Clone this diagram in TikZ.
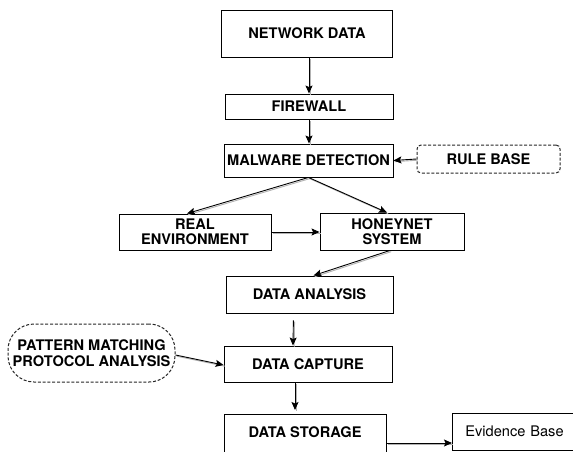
\documentclass[tikz,border=0pt]{standalone}
\usepackage{fontspec}
\setmainfont{TeX Gyre Heros}
\usetikzlibrary{arrows.meta,calc}

\tikzset{
  box/.style={draw, line width=0.9pt, fill=white, font=\fontsize{14.6}{15.5}\selectfont\bfseries,
    align=center, inner sep=2pt},
  dashbox/.style={box, line width=1pt, dash pattern=on 3pt off 1.8pt, draw=black!85},
  arr/.style={line width=0.9pt, -{Stealth[length=8pt,width=7pt,inset=1.5pt]},
    preaction={draw=black!30, line width=0.9pt, arrows=-,
      transform canvas={xshift=1.2pt,yshift=-1.2pt}}},
}

\begin{document}
\begin{tikzpicture}[x=1pt,y=-1pt]
  \useasboundingbox (0,0) rectangle (573,452);
  \clip (0,0) rectangle (573,452);

  % main processing chain
  \node[box, minimum width=171, minimum height=47] (net) at (307,33.5) {NETWORK DATA};
  \node[box, minimum width=168, minimum height=25] (fw)  at (309,106.5) {FIREWALL};
  \node[box, minimum width=169, minimum height=33] (mal) at (308.5,160.5) {MALWARE DETECTION};
  \node[dashbox, rounded corners=4pt, minimum width=143, minimum height=28] (rule) at (488.5,159) {RULE BASE};

  \node[box, minimum width=152, minimum height=36] (real) at (195,232) {REAL\\ENVIRONMENT};
  \node[box, minimum width=144, minimum height=37] (hon)  at (392,231.5) {HONEYNET\\SYSTEM};

  \node[box, minimum width=167, minimum height=37] (ana) at (309.5,294.5) {DATA ANALYSIS};
  \node[dashbox, rounded corners=26pt, minimum width=167, minimum height=58] (pat) at (91.5,353)
    {PATTERN MATCHING\\PROTOCOL ANALYSIS};
  \node[box, minimum width=168, minimum height=36] (cap) at (308,364) {DATA CAPTURE};

  % storage boxes run past the lower and right edges
  \node[box, minimum width=162, minimum height=50, anchor=north] (store) at (305,414) {};
  \node[font=\fontsize{14.6}{15.5}\selectfont\bfseries] (storetext) at (305,432) {DATA STORAGE};
  \node[draw, line width=0.9pt, fill=white, minimum height=37, text width=122,
    inner xsep=13pt, align=left, anchor=west, font=\fontsize{14.6}{15.5}\selectfont] (evid)
    at (452,431.5) {Evidence Base};

  % connectors
  \draw[arr] (fw.north |- net.south) -- (fw.north);
  \draw[arr] (fw.south) -- (fw.south |- mal.north);
  \draw[arr] (rule.west) -- (mal.east);
  \draw[arr] (mal.south) -- ($(real.north)+(-8,0)$);
  \draw[arr] (mal.south) -- ($(hon.north)+(-5,0)$);
  \draw[arr] (real.east) -- (real.east -| hon.west);
  \draw[arr] ($(hon.south)+(-2,0)$) -- ($(ana.north)+(4,0)$);
  \draw[arr, shorten <=7pt] ($(ana.south)+(-16,0)$) -- ($(cap.north)+(-15,0)$);
  \draw[arr, shorten >=4pt] ($(cap.south)+(-13,0)$) -- ($(store.north)+(-10,0)$);
  \draw[arr] ($(pat.east)+(0,2)$) -- ($(cap.west)+(0,1)$);
  \coordinate (evin) at ($(evid.west)+(0,11.5)$);
  \draw[arr] (store.east |- evin) -- (evin);
\end{tikzpicture}
\end{document}
